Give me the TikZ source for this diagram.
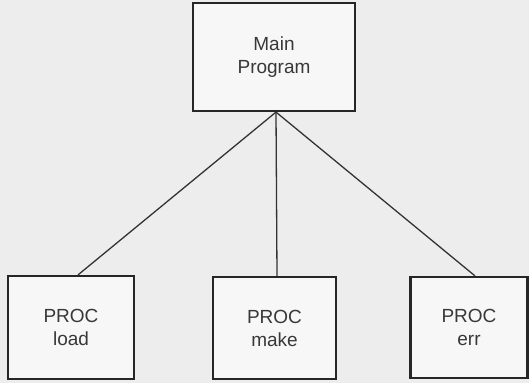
\documentclass[tikz,border=0pt]{standalone}
\usepackage{fontspec}
\setmainfont{Liberation Sans}
\begin{document}
\begin{tikzpicture}[x=1pt,y=-1pt,
  box/.style={draw=black!85, line width=2.2pt, fill=black!3, text=black!78,
    align=center, inner sep=0pt, font=\fontsize{19}{23}\selectfont},
  link/.style={draw=black!80, line width=1.3pt}]
  % canvas
  \fill[black!7] (0,0) rectangle (529,383);
  \useasboundingbox (0,0) rectangle (529,383);
  % modules
  \node[box, minimum width=162pt, minimum height=108pt] (main) at (274,57) {Main\\Program};
  \node[box, minimum width=126pt, minimum height=103pt] (load) at (71,327.5) {PROC\\load};
  \node[box, minimum width=123pt, minimum height=102pt] (make) at (274.5,328) {PROC\\make};
  \node[box, minimum width=117pt, minimum height=101pt] (err) at (469,327.5) {PROC\\err};
  % calls
  \coordinate (hub) at ([xshift=2pt]main.south);
  \draw[link] (hub) -- ([xshift=7pt]load.north);
  \draw[link] (hub) -- ([xshift=2.5pt]make.north);
  \draw[link] (hub) -- ([xshift=6pt]err.north);
\end{tikzpicture}
\end{document}
